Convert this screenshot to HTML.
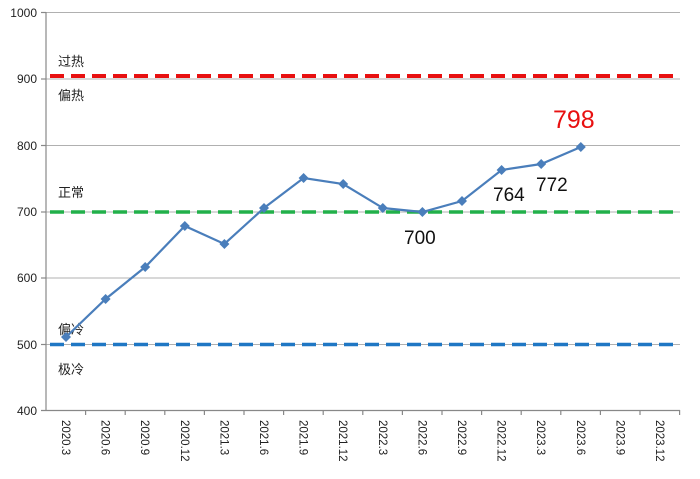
<!DOCTYPE html>
<html><head><meta charset="utf-8"><style>body{margin:0;background:#fff}</style></head><body>
<svg width="700" height="474" xmlns="http://www.w3.org/2000/svg" font-family="Liberation Sans, Noto Sans CJK SC, sans-serif">
<rect width="700" height="474" fill="#fff"/>
<g stroke="#b0b0b0" stroke-width="1">
<line x1="46" y1="12.5" x2="680" y2="12.5"/>
<line x1="46" y1="79" x2="680" y2="79"/>
<line x1="46" y1="145.5" x2="680" y2="145.5"/>
<line x1="46" y1="212" x2="680" y2="212"/>
<line x1="46" y1="278" x2="680" y2="278"/>
<line x1="46" y1="344.5" x2="680" y2="344.5"/>
</g>
<g stroke="#888" stroke-width="1.2">
<line x1="46" y1="12" x2="46" y2="411"/>
<line x1="41" y1="410.5" x2="680" y2="410.5"/>
<line x1="41" y1="12.5" x2="46" y2="12.5"/><line x1="41" y1="79" x2="46" y2="79"/><line x1="41" y1="145.5" x2="46" y2="145.5"/><line x1="41" y1="212" x2="46" y2="212"/><line x1="41" y1="278" x2="46" y2="278"/><line x1="41" y1="344.5" x2="46" y2="344.5"/>
<line x1="85.6" y1="410" x2="85.6" y2="415"/><line x1="125.2" y1="410" x2="125.2" y2="415"/><line x1="164.8" y1="410" x2="164.8" y2="415"/><line x1="204.4" y1="410" x2="204.4" y2="415"/><line x1="244" y1="410" x2="244" y2="415"/><line x1="283.6" y1="410" x2="283.6" y2="415"/><line x1="323.2" y1="410" x2="323.2" y2="415"/><line x1="362.8" y1="410" x2="362.8" y2="415"/><line x1="402.4" y1="410" x2="402.4" y2="415"/><line x1="442" y1="410" x2="442" y2="415"/><line x1="481.6" y1="410" x2="481.6" y2="415"/><line x1="521.2" y1="410" x2="521.2" y2="415"/><line x1="560.8" y1="410" x2="560.8" y2="415"/><line x1="600.4" y1="410" x2="600.4" y2="415"/><line x1="640" y1="410" x2="640" y2="415"/><line x1="679.6" y1="410" x2="679.6" y2="415"/>
</g>
<g font-size="12" fill="#222" text-anchor="end">
<text x="37" y="17">1000</text><text x="37" y="83">900</text><text x="37" y="150">800</text><text x="37" y="216">700</text><text x="37" y="282">600</text><text x="37" y="349">500</text><text x="37" y="415">400</text>
</g>
<line x1="50" y1="76" x2="680" y2="76" stroke="#e81010" stroke-width="4" stroke-dasharray="14,7"/>
<line x1="50" y1="212" x2="680" y2="212" stroke="#22b04a" stroke-width="3.5" stroke-dasharray="14,7"/>
<line x1="50" y1="344.5" x2="680" y2="344.5" stroke="#1f77c4" stroke-width="3.5" stroke-dasharray="14,7"/>
<g font-size="13" fill="#222">
<text x="58" y="66">过热</text><text x="58" y="100">偏热</text><text x="58" y="197">正常</text><text x="58" y="334">偏冷</text><text x="58" y="374">极冷</text>
</g>
<polyline fill="none" stroke="#4a7ebb" stroke-width="2.2" points="66,337 105.6,299 145.2,267 184.8,226 224.4,244 264,208 303.6,178 343.2,184 382.8,208 422.4,212 462,201 501.6,170 541.2,164 580.8,147"/>
<g fill="#4a7ebb">
<path d="M66 332l5 5-5 5-5-5z"/><path d="M105.6 294l5 5-5 5-5-5z"/><path d="M145.2 262l5 5-5 5-5-5z"/><path d="M184.8 221l5 5-5 5-5-5z"/><path d="M224.4 239l5 5-5 5-5-5z"/><path d="M264 203l5 5-5 5-5-5z"/><path d="M303.6 173l5 5-5 5-5-5z"/><path d="M343.2 179l5 5-5 5-5-5z"/><path d="M382.8 203l5 5-5 5-5-5z"/><path d="M422.4 207l5 5-5 5-5-5z"/><path d="M462 196l5 5-5 5-5-5z"/><path d="M501.6 165l5 5-5 5-5-5z"/><path d="M541.2 159l5 5-5 5-5-5z"/><path d="M580.8 142l5 5-5 5-5-5z"/>
</g>
<g font-size="19" fill="#111">
<text x="404" y="244">700</text><text x="493" y="201">764</text><text x="536" y="191">772</text>
</g>
<text x="553" y="128" font-size="25" fill="#e81010">798</text>
<g font-size="11.5" fill="#222">
<text transform="translate(62,420) rotate(90)">2020.3</text>
<text transform="translate(101.6,420) rotate(90)">2020.6</text>
<text transform="translate(141.2,420) rotate(90)">2020.9</text>
<text transform="translate(180.8,420) rotate(90)">2020.12</text>
<text transform="translate(220.4,420) rotate(90)">2021.3</text>
<text transform="translate(260,420) rotate(90)">2021.6</text>
<text transform="translate(299.6,420) rotate(90)">2021.9</text>
<text transform="translate(339.2,420) rotate(90)">2021.12</text>
<text transform="translate(378.8,420) rotate(90)">2022.3</text>
<text transform="translate(418.4,420) rotate(90)">2022.6</text>
<text transform="translate(458,420) rotate(90)">2022.9</text>
<text transform="translate(497.6,420) rotate(90)">2022.12</text>
<text transform="translate(537.2,420) rotate(90)">2023.3</text>
<text transform="translate(576.8,420) rotate(90)">2023.6</text>
<text transform="translate(616.4,420) rotate(90)">2023.9</text>
<text transform="translate(656,420) rotate(90)">2023.12</text>
</g>
</svg>
</body></html>
